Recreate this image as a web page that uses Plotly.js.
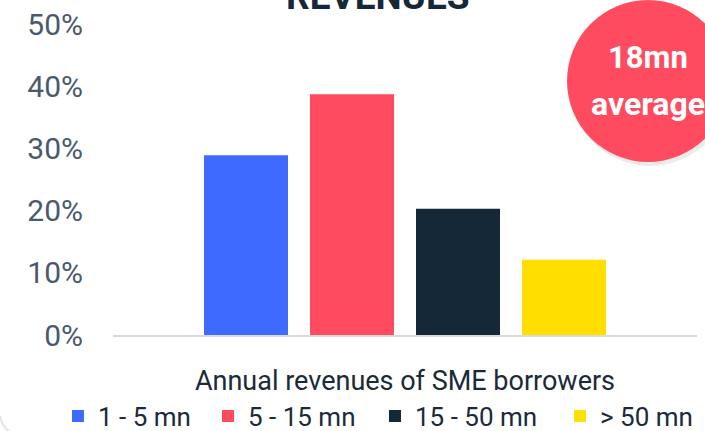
<!DOCTYPE html>
<html>
<head>
<meta charset="utf-8">
<script src="https://cdn.plot.ly/plotly-3.0.1.min.js"></script>
<style>
html,body{margin:0;padding:0;background:#fff;}
#chart{width:705px;height:431px;}
</style>
</head>
<body>
<div id="chart"></div>
<script>
const groupLabel = ['Annual revenues of SME borrowers'];
const categories = ['1 - 5 mn', '5 - 15 mn', '15 - 50 mn', '> 50 mn'];
const shares = [28.9, 38.7, 20.3, 12.1];
const colors = ['#3e6aff', '#ff4b5f', '#152838', '#ffde00'];
const yTicks = [0, 10, 20, 30, 40, 50];
const yTickText = ['0%', '10%', '20%', '30%', '40%', '50%'];
const titleText = 'REVENUES';
const badgeLines = ['18mn', 'average'];
const legendLeftPx = [75, 225, 392, 577];

const font = 'Roboto, "Noto Sans", sans-serif';
const legendIds = ['legend', 'legend2', 'legend3', 'legend4'];

const traces = categories.map((c, i) => ({
  type: 'bar',
  name: c,
  x: groupLabel,
  y: [shares[i]],
  marker: {color: colors[i]},
  legend: legendIds[i],
  hoverinfo: 'none'
}));

const L = 113, R = 697, T = 24, B = 335;
const px2x = p => (p - L) / (R - L);
const px2y = p => (B - p) / (B - T);

const layout = {
  width: 705, height: 431,
  margin: {l: L, r: 705 - R, t: T, b: 431 - B, autoexpand: false},
  paper_bgcolor: '#ffffff',
  plot_bgcolor: '#ffffff',
  barmode: 'group',
  bargap: 0.274,
  bargroupgap: 0.2075,
  showlegend: true,
  xaxis: {
    type: 'category',
    automargin: false,
    showticklabels: false,
    ticks: '',
    showgrid: false,
    zeroline: false,
    showline: true,
    linecolor: '#d9d9d9',
    linewidth: 2,
    title: {text: groupLabel[0], font: {family: font, size: 27, color: '#1b2a39'}, standoff: 35}
  },
  yaxis: {
    automargin: false,
    range: [0, 50],
    tickvals: yTicks,
    ticktext: yTickText,
    showgrid: false,
    zeroline: false,
    showline: false,
    ticks: '',
    ticklabelstandoff: 29,
    tickfont: {family: font, size: 30, color: '#4a596d'}
  },
  shapes: [
    {type: 'circle', xref: 'paper', yref: 'paper', xsizemode: 'pixel', ysizemode: 'pixel',
     xanchor: px2x(650), yanchor: px2y(85), x0: -81, x1: 81, y0: -81, y1: 81,
     fillcolor: 'rgba(0,0,0,0.08)', line: {width: 0}, layer: 'above'},
    {type: 'circle', xref: 'paper', yref: 'paper', xsizemode: 'pixel', ysizemode: 'pixel',
     xanchor: px2x(648), yanchor: px2y(81), x0: -81, x1: 81, y0: -81, y1: 81,
     fillcolor: '#ff4b5f', line: {width: 0}, layer: 'above'},
    {type: 'path', xref: 'paper', yref: 'paper',
     path: 'M ' + px2x(0) + ',' + px2y(416) + ' Q ' + px2x(2) + ',' + px2y(428) + ' ' + px2x(12) + ',' + px2y(433),
     line: {color: '#e3e3e3', width: 2}}
  ],
  annotations: [
    {text: '<b>' + titleText + '</b>', xref: 'paper', yref: 'paper', x: px2x(378), y: px2y(-4),
     xanchor: 'center', yanchor: 'middle', showarrow: false,
     font: {family: font, size: 37, color: '#152838'}},
    {text: '<b>' + badgeLines[0] + '</b>', xref: 'paper', yref: 'paper', x: px2x(648), y: px2y(57),
     xanchor: 'center', yanchor: 'middle', showarrow: false,
     font: {family: font, size: 31, color: '#ffffff'}},
    {text: '<b>' + badgeLines[1] + '</b>', xref: 'paper', yref: 'paper', x: px2x(589), y: px2y(104),
     xanchor: 'left', yanchor: 'middle', showarrow: false,
     font: {family: font, size: 32, color: '#ffffff'}}
  ]
};

legendIds.forEach((id, i) => {
  layout[id] = {
    orientation: 'h',
    x: px2x(legendLeftPx[i] - 17), xanchor: 'left',
    y: px2y(416), yanchor: 'middle',
    font: {family: font, size: 26, color: '#1b2a39'},
    bgcolor: 'rgba(0,0,0,0)',
    itemclick: false, itemdoubleclick: false
  };
});

Plotly.newPlot('chart', traces, layout, {displayModeBar: false, staticPlot: true});
</script>
</body>
</html>
